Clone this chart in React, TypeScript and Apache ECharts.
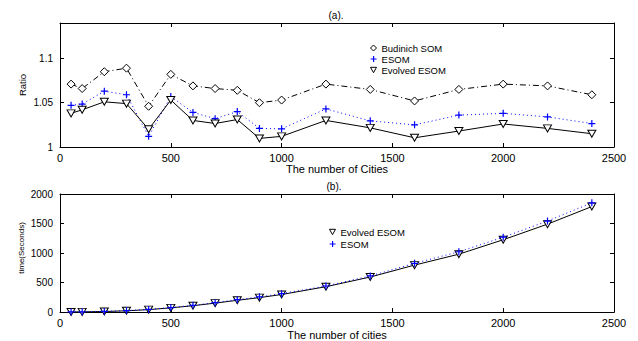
import React, { useEffect, useRef } from "react";
import * as echarts from "echarts";

const cities = [50, 100, 200, 300, 400, 500, 600, 700, 800, 900, 1000, 1200, 1400, 1600, 1800, 2000, 2200, 2400];

const budinichRatio = [1.071, 1.066, 1.085, 1.089, 1.046, 1.082, 1.069, 1.066, 1.064, 1.05, 1.053, 1.071, 1.065, 1.052, 1.065, 1.071, 1.069, 1.059];
const esomRatio = [1.047, 1.0485, 1.063, 1.059, 1.012, 1.057, 1.039, 1.032, 1.04, 1.021, 1.0205, 1.043, 1.0295, 1.025, 1.036, 1.038, 1.034, 1.0265];
const evolvedRatio = [1.038, 1.042, 1.051, 1.049, 1.02, 1.053, 1.03, 1.0265, 1.031, 1.0097, 1.012, 1.03, 1.0216, 1.0104, 1.018, 1.026, 1.021, 1.015];

const evolvedTime = [2, 4, 10, 22, 42, 72, 108, 152, 200, 245, 298, 430, 594, 796, 981, 1225, 1490, 1787];
const esomTime = [3, 5, 12, 25, 46, 77, 114, 160, 210, 258, 312, 442, 612, 826, 1022, 1268, 1542, 1851];

const xTicks = [0, 500, 1000, 1500, 2000, 2500];
const ratioTicks = [1, 1.05, 1.1];
const timeTicks = [0, 500, 1000, 1500, 2000];

const FONT = "'Liberation Sans', Arial, Helvetica, sans-serif";
const BLUE = "#0000ff";

const DIAMOND = "path://M5,0L10,5L5,10L0,5Z";
const PLUS = "path://M0,5L10,5M5,0L5,10";
const TRI_DOWN = "path://M0,0L10,0L5,9Z";

function pairs(xs: number[], ys: number[]) {
  return xs.map((x, i) => [x, ys[i]]);
}

const pickTick = (ticks: number[]) => (v: number) => {
  const t = ticks.find((r) => Math.abs(r - v) < 1e-9);
  return t === undefined ? "" : String(t);
};

export default function App() {
  const ref = useRef<HTMLDivElement>(null);
  useEffect(() => {
    if (!ref.current) return;
    const chart = echarts.init(ref.current, null, { renderer: "svg" });

    const baseX = (gridIndex: number, labelSize: number, nameGap: number, name: string) => ({
      type: "value",
      gridIndex,
      min: xTicks[0],
      max: xTicks[xTicks.length - 1],
      interval: 500,
      position: "bottom",
      name,
      nameLocation: "middle",
      nameGap,
      nameTextStyle: { fontFamily: FONT, fontSize: 11, color: "#000" },
      axisLine: { show: true, onZero: false, lineStyle: { color: "#000", width: 1 } },
      axisTick: { show: true, inside: true, length: 4, lineStyle: { color: "#000" } },
      axisLabel: { show: true, fontFamily: FONT, fontSize: labelSize, color: "#000", margin: 5, formatter: pickTick(xTicks) },
      splitLine: { show: false },
    });
    const topX = (gridIndex: number) => ({
      type: "value",
      gridIndex,
      min: 0,
      max: 2500,
      interval: 500,
      position: "top",
      axisLine: { show: true, onZero: false, lineStyle: { color: "#000", width: 1 } },
      axisTick: { show: true, inside: true, length: 4, lineStyle: { color: "#000" } },
      axisLabel: { show: false },
      splitLine: { show: false },
    });
    const leftY = (gridIndex: number, min: number, max: number, interval: number, ticks: number[]) => ({
      type: "value",
      gridIndex,
      min,
      max,
      interval,
      position: "left",
      axisLine: { show: true, onZero: false, lineStyle: { color: "#000", width: 1 } },
      axisTick: { show: true, inside: true, length: 4, lineStyle: { color: "#000" } },
      axisLabel: {
        show: true,
        fontFamily: FONT,
        fontSize: 10,
        color: "#000",
        margin: 7,
        formatter: pickTick(ticks),
      },
      splitLine: { show: false },
    });
    const rightY = (gridIndex: number, min: number, max: number, interval: number) => ({
      type: "value",
      gridIndex,
      min,
      max,
      interval,
      position: "right",
      axisLine: { show: true, onZero: false, lineStyle: { color: "#000", width: 1 } },
      axisTick: { show: true, inside: true, length: 4, lineStyle: { color: "#000" } },
      axisLabel: { show: false },
      splitLine: { show: false },
    });

    const common = {
      type: "line",
      showSymbol: true,
      showAllSymbol: true,
      emphasis: { disabled: true },
      z: 3,
    };

    const openBlack = { color: "#fff", borderColor: "#000", borderWidth: 1 };
    const plusBlue = { color: BLUE, borderColor: BLUE, borderWidth: 1.2 };
    const legendText = { fontFamily: FONT, fontSize: 9.5, color: "#000" };
    const legendItem = (name: string, icon: string, style: any, left: number, top: number) => ({
      data: [{ name, icon, itemStyle: style }],
      left,
      top,
      itemWidth: 6,
      itemHeight: 6,
      textStyle: legendText,
      selectedMode: false,
    });

    chart.setOption({
      animation: false,
      backgroundColor: "#fff",
      textStyle: { fontFamily: FONT },
      grid: [
        { left: 60, right: 24, top: 23, height: 124, containLabel: false },
        { left: 60, right: 24, top: 194, height: 126, containLabel: false },
      ],
      xAxis: [
        baseX(0, 11, 14, "The number of Cities"),
        topX(0),
        baseX(1, 11, 11, "The number of cities"),
        topX(1),
      ],
      yAxis: [
        leftY(0, 1, 1.14, 0.05, ratioTicks),
        rightY(0, 1, 1.14, 0.05),
        leftY(1, timeTicks[0], timeTicks[timeTicks.length - 1], 500, timeTicks),
        rightY(1, 0, 2000, 500),
      ],
      legend: [
        legendItem("Budinich SOM", DIAMOND, openBlack, 365, 38),
        legendItem("ESOM", PLUS, plusBlue, 365, 49),
        legendItem("Evolved ESOM", TRI_DOWN, openBlack, 365, 60),
        legendItem("Evolved ESOM", TRI_DOWN, openBlack, 324, 222),
        legendItem("ESOM", PLUS, plusBlue, 324, 234),
      ],
      series: [
        {
          ...common,
          name: "Budinich SOM",
          xAxisIndex: 0,
          yAxisIndex: 0,
          data: pairs(cities, budinichRatio),
          symbol: DIAMOND,
          symbolSize: 8,
          itemStyle: openBlack,
          lineStyle: { color: "#000", width: 1, type: [6, 3, 1, 3] },
        },
        {
          ...common,
          name: "ESOM",
          xAxisIndex: 0,
          yAxisIndex: 0,
          data: pairs(cities, esomRatio),
          symbol: PLUS,
          symbolSize: 7,
          itemStyle: plusBlue,
          lineStyle: { color: BLUE, width: 1, type: [1, 3] },
        },
        {
          ...common,
          name: "Evolved ESOM",
          xAxisIndex: 0,
          yAxisIndex: 0,
          data: pairs(cities, evolvedRatio),
          symbol: TRI_DOWN,
          symbolSize: [8, 7],
          itemStyle: openBlack,
          lineStyle: { color: "#000", width: 1, type: "solid" },
        },
        {
          ...common,
          name: "Evolved ESOM",
          xAxisIndex: 2,
          yAxisIndex: 2,
          data: pairs(cities, evolvedTime),
          symbol: TRI_DOWN,
          symbolSize: [8, 7],
          itemStyle: openBlack,
          lineStyle: { color: "#000", width: 1, type: "solid" },
        },
        {
          ...common,
          name: "ESOM",
          xAxisIndex: 2,
          yAxisIndex: 2,
          data: pairs(cities, esomTime),
          symbol: PLUS,
          symbolSize: 7,
          itemStyle: plusBlue,
          lineStyle: { color: BLUE, width: 1, type: [1, 3] },
        },
      ],
      graphic: [
        {
          type: "text",
          x: 336,
          y: 15,
          style: { text: "(a).", fontFamily: FONT, fontSize: 10, fill: "#000", align: "center", verticalAlign: "middle" },
        },
        {
          type: "text",
          x: 334,
          y: 186,
          style: { text: "(b).", fontFamily: FONT, fontSize: 10, fill: "#000", align: "center", verticalAlign: "middle" },
        },
        {
          type: "text",
          x: 22,
          y: 85,
          rotation: Math.PI / 2,
          style: { text: "Ratio", fontFamily: FONT, fontSize: 9.5, fill: "#000", align: "center", verticalAlign: "middle" },
        },
        {
          type: "text",
          x: 21,
          y: 248,
          rotation: Math.PI / 2,
          style: { text: "time(Seconds)", fontFamily: FONT, fontSize: 8, fill: "#000", align: "center", verticalAlign: "middle" },
        },
      ],
    });
    return () => chart.dispose();
  }, []);
  return <div ref={ref} style={{ width: 638, height: 341, position: "absolute", left: 0, top: 0 }} />;
}
